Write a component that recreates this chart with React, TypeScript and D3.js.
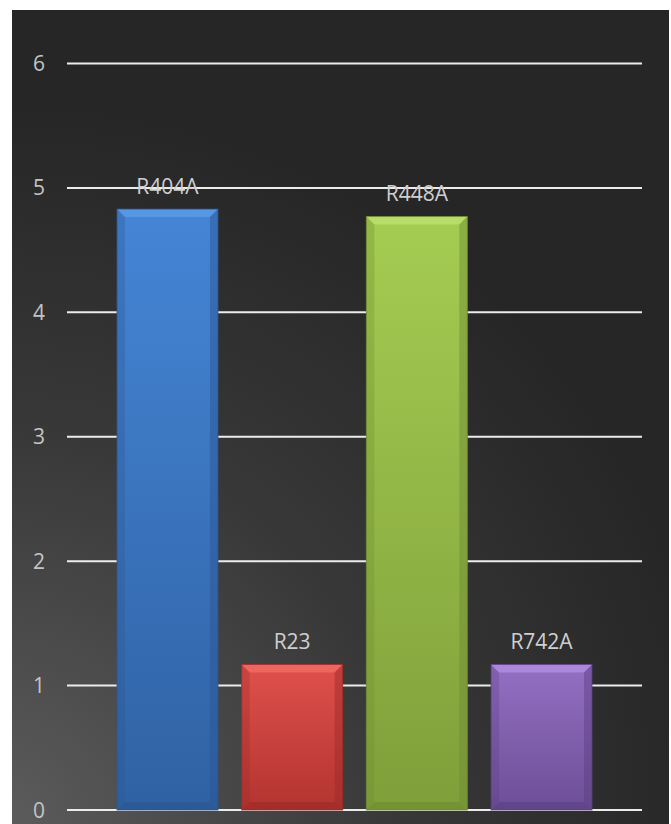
import React from "react";
import * as d3 from "d3";

const categories = ["R404A", "R23", "R448A", "R742A"];
const values = [4.83, 1.17, 4.77, 1.17];
const yTicks = [0, 1, 2, 3, 4, 5, 6];
const colors = [
  { top: "#4585d6", main: "#3b76c2", bottom: "#2f62a3", light: "#5b9be6", dark: "#2a5590" },
  { top: "#e0504b", main: "#d2423e", bottom: "#b23430", light: "#f06a63", dark: "#9a2a27" },
  { top: "#a5cc52", main: "#94ba47", bottom: "#7f9f3a", light: "#bcdf6e", dark: "#6d8a30" },
  { top: "#9470c4", main: "#8260b2", bottom: "#6c4e96", light: "#b08ce0", dark: "#5a3f80" },
];

const W = 671;
const H = 824;

export default function App() {
  const y = d3.scaleLinear().domain([0, 6]).range([810, 63.5]);
  const x = d3.scaleBand<string>().domain(categories).range([117, 592]).paddingInner(0.19);
  const gridX0 = 67;
  const gridX1 = 642;
  const bw = x.bandwidth();
  const b = 8;
  return (
    <svg width={W} height={H} style={{ position: "absolute", left: 0, top: 0, background: "#fff" }}>
      <defs>
        <radialGradient id="bg" cx="0" cy={H} r="720" gradientUnits="userSpaceOnUse">
          <stop offset="0" stopColor="#5c5c5c" />
          <stop offset="0.55" stopColor="#383838" />
          <stop offset="1" stopColor="#262626" />
        </radialGradient>
        {colors.map((c, i) => (
          <linearGradient key={i} id={`g${i}`} x1="0" y1="0" x2="0" y2="1">
            <stop offset="0" stopColor={c.top} />
            <stop offset="1" stopColor={c.bottom} />
          </linearGradient>
        ))}
      </defs>
      <rect x={12} y={10} width={657} height={H - 10} fill="url(#bg)" />
      {yTicks.map((t) => (
        <g key={t}>
          <line x1={gridX0} x2={gridX1} y1={y(t)} y2={y(t)} stroke="#ececec" strokeWidth={2} />
          <text
            x={39}
            y={y(t)}
            dy="0.36em"
            textAnchor="middle"
            fill="#c4c4c4"
            fontFamily="'Open Sans', sans-serif"
            fontSize={21}
          >
            {t}
          </text>
        </g>
      ))}
      {categories.map((cat, i) => {
        const x0 = x(cat)!;
        const x1 = x0 + bw;
        const y0 = y(values[i]);
        const y1 = y(0);
        const c = colors[i];
        return (
          <g key={cat}>
            <rect x={x0} y={y0} width={bw} height={y1 - y0} fill={`url(#g${i})`} />
            <polygon
              points={`${x0},${y0} ${x1},${y0} ${x1 - b},${y0 + b} ${x0 + b},${y0 + b}`}
              fill={c.light}
              opacity={0.85}
            />
            <polygon
              points={`${x0},${y0} ${x0 + b},${y0 + b} ${x0 + b},${y1 - b} ${x0},${y1}`}
              fill={c.dark}
              opacity={0.3}
            />
            <polygon
              points={`${x1},${y0} ${x1 - b},${y0 + b} ${x1 - b},${y1 - b} ${x1},${y1}`}
              fill={c.dark}
              opacity={0.45}
            />
            <polygon
              points={`${x0},${y1} ${x0 + b},${y1 - b} ${x1 - b},${y1 - b} ${x1},${y1}`}
              fill={c.dark}
              opacity={0.6}
            />
            <rect x={x0} y={y0} width={bw} height={y1 - y0} fill="none" stroke={c.dark} strokeWidth={1} opacity={0.8} />
            <text
              x={x0 + bw / 2}
              y={y0 - 23}
              dy="0.36em"
              textAnchor="middle"
              fill="#cfcfcf"
              fontFamily="'Open Sans', sans-serif"
              fontSize={21}
            >
              {cat}
            </text>
          </g>
        );
      })}
    </svg>
  );
}
